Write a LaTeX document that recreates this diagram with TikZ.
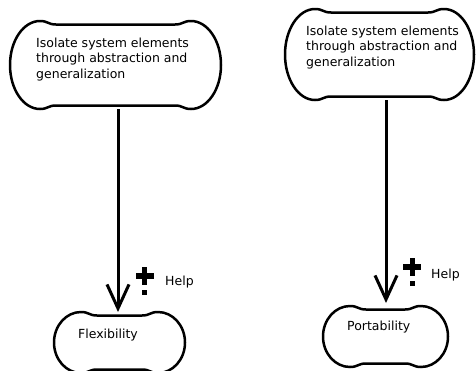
\documentclass[tikz,border=0pt]{standalone}
\usepackage{fontspec}
\setmainfont{DejaVu Sans}
\usetikzlibrary{arrows.meta}

\tikzset{
  cloudline/.style={line width=2.5pt, line join=round},
  cloudbox/.style={rectangle, inner sep=0pt, outer sep=0pt},
  boxtext/.style={font=\fontsize{12.5}{15.5}\selectfont, inner sep=0pt, align=left, anchor=north west},
  smalltext/.style={font=\fontsize{12.5}{15.5}\selectfont, inner sep=0pt, anchor=base west},
  flowarrow/.style={line width=3pt, -{Straight Barb[length=24pt,width=22pt,line width=3pt]}},
  markbar/.style={fill=black, draw=none},
}

% Flattened cloud: name, left, top, right, bottom, width of the rounded ends
\newcommand{\bumpcloud}[6]{%
  \pgfmathsetmacro\cL{#2}\pgfmathsetmacro\cT{#3}%
  \pgfmathsetmacro\cR{#4}\pgfmathsetmacro\cB{#5}%
  \pgfmathsetmacro\cb{#6}%
  \pgfmathsetmacro\cM{(\cT+\cB)/2}%
  \pgfmathsetmacro\cW{\cR-\cL}\pgfmathsetmacro\cH{\cB-\cT}%
  \pgfmathsetmacro\cd{3.5}\pgfmathsetmacro\cs{16}%
  \node[cloudbox, minimum width=\cW pt, minimum height=\cH pt] (#1) at ({(\cL+\cR)/2},\cM) {};
  \draw[cloudline]
    (\cL,\cM) .. controls (\cL,{\cM-0.552*(\cM-\cT)}) and ({\cL+0.448*\cb},\cT) .. ({\cL+\cb},\cT)
    .. controls ({\cL+\cb+0.5*\cs},\cT) and ({\cL+\cb+0.5*\cs},{\cT+\cd}) .. ({\cL+\cb+\cs},{\cT+\cd})
    -- ({\cR-\cb-\cs},{\cT+\cd})
    .. controls ({\cR-\cb-0.5*\cs},{\cT+\cd}) and ({\cR-\cb-0.5*\cs},\cT) .. ({\cR-\cb},\cT)
    .. controls ({\cR-0.448*\cb},\cT) and (\cR,{\cM-0.552*(\cM-\cT)}) .. (\cR,\cM)
    .. controls (\cR,{\cM+0.552*(\cB-\cM)}) and ({\cR-0.448*\cb},\cB) .. ({\cR-\cb},\cB)
    .. controls ({\cR-\cb-0.5*\cs},\cB) and ({\cR-\cb-0.5*\cs},{\cB-\cd}) .. ({\cR-\cb-\cs},{\cB-\cd})
    -- ({\cL+\cb+\cs},{\cB-\cd})
    .. controls ({\cL+\cb+0.5*\cs},{\cB-\cd}) and ({\cL+\cb+0.5*\cs},\cB) .. ({\cL+\cb},\cB)
    .. controls ({\cL+0.448*\cb},\cB) and (\cL,{\cM+0.552*(\cB-\cM)}) .. cycle;
}

% "Help" mark: a bold plus with a square dot under it, centred at x, y
\newcommand{\helpmark}[2]{%
  \fill[markbar] ({#1-2.5},{#2-9}) rectangle ({#1+2.5},{#2+9});
  \fill[markbar] ({#1-9},{#2-3}) rectangle ({#1+9},{#2+3});
  \fill[markbar] ({#1-2.5},{#2+14}) rectangle ({#1+2.5},{#2+19});
}

\begin{document}
\begin{tikzpicture}[x=1pt, y=-1pt]
  \useasboundingbox (0,0) rectangle (476,370);
  \clip (0,0) rectangle (476,370);
  \fill[white] (0,0) rectangle (476,370);

  % left chain
  \bumpcloud{isoL}{10}{21}{221}{109}{30}
  \node[boxtext] (isoLtext) at (36,37.5) {Isolate system elements\\through abstraction and\\generalization};
  \bumpcloud{flex}{54}{312}{185}{373}{27}
  \node[smalltext] (flextext) at (78,338) {Flexibility};
  \draw[flowarrow] ([xshift=2.5pt]isoL.south) -- ([xshift=-1.5pt]flex.north);
  \helpmark{144.5}{276}
  \node[smalltext] (helpL) at (165,285) {Help};

  % right chain
  \bumpcloud{isoR}{285}{9}{474}{100}{30}
  \node[boxtext] (isoRtext) at (306,25.5) {Isolate system elements\\through abstraction and\\generalization};
  \bumpcloud{port}{323}{306}{448}{367}{27}
  \node[smalltext] (porttext) at (347,330) {Portability};
  \draw[flowarrow, shorten >=3pt] ([xshift=6.5pt]isoR.south) -- ([xshift=0.5pt]port.north);
  \helpmark{412}{267}
  \node[smalltext] (helpR) at (431,278) {Help};
\end{tikzpicture}
\end{document}
